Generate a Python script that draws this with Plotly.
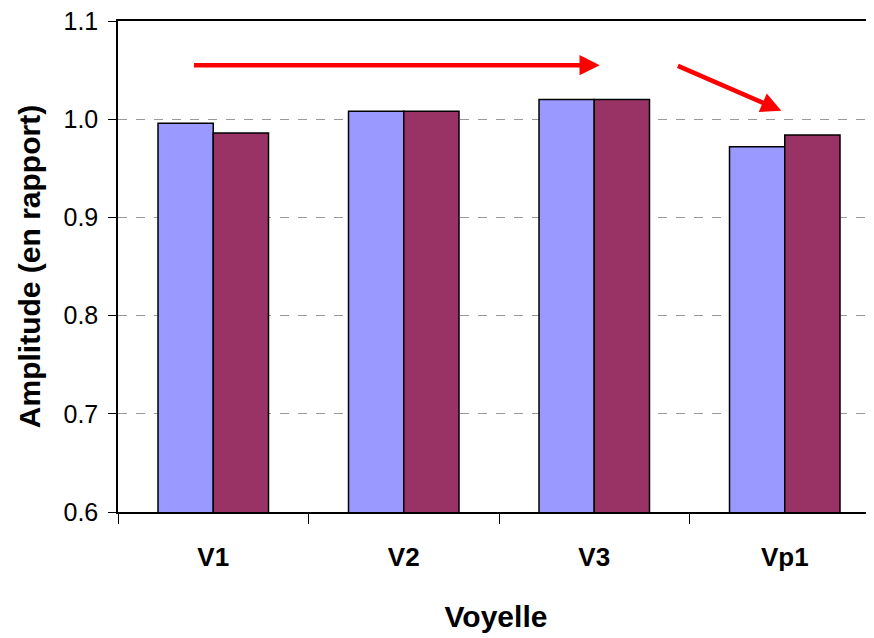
import plotly.graph_objects as go

categories = ["V1", "V2", "V3", "Vp1"]
series_a = [0.996, 1.008, 1.020, 0.972]
series_b = [0.986, 1.008, 1.020, 0.984]
y_ticks = [0.6, 0.7, 0.8, 0.9, 1.0, 1.1]
y_ticktext = ["0.6", "0.7", "0.8", "0.9", "1.0", "1.1"]

# arrow annotations (data units: category index, amplitude)
arrow_tail_x = [-0.109, 2.431]
arrow_tail_y = [1.055, 1.055]
arrow_tip_x = [2.029, 2.982]
arrow_tip_y = [1.055, 1.0086]

fig = go.Figure()
fig.add_trace(go.Bar(x=categories, y=series_a, marker=dict(color="#9999FF", line=dict(color="black", width=1.5)), showlegend=False))
fig.add_trace(go.Bar(x=categories, y=series_b, marker=dict(color="#993366", line=dict(color="black", width=1.5)), showlegend=False))

for tx, ty, hx, hy in zip(arrow_tail_x, arrow_tail_y, arrow_tip_x, arrow_tip_y):
    fig.add_annotation(x=hx, y=hy, ax=tx, ay=ty, xref="x", yref="y", axref="x", ayref="y",
                       text="", showarrow=True, arrowhead=2, arrowsize=0.9, arrowwidth=4.5,
                       arrowcolor="#FF0000", standoff=0, startstandoff=0)

fig.update_layout(
    width=866, height=630,
    margin=dict(l=110, r=0, t=13, b=126),
    paper_bgcolor="white", plot_bgcolor="white",
    barmode="group", bargap=0.42, bargroupgap=0,
    font=dict(family="Liberation Sans, Arial, sans-serif", color="black"),
)
fig.update_xaxes(
    type="category", range=[-0.5, 3.4685],
    showline=True, linecolor="black", linewidth=1.5, mirror=True,
    ticks="outside", tickson="boundaries", ticklen=10, tickcolor="black", tickwidth=1,
    showgrid=False,
    tickfont=dict(size=26, family="Liberation Sans, Arial, sans-serif", color="black", weight="bold"),
    ticklabelstandoff=21,
    title=dict(text="<b>Voyelle</b>", font=dict(size=30), standoff=35),
)
fig.update_yaxes(
    range=[0.6, 1.1], tickvals=y_ticks, ticktext=y_ticktext,
    showline=True, linecolor="black", linewidth=1.5,
    ticks="outside", ticklen=8, tickcolor="black", tickwidth=1,
    showgrid=True, gridcolor="#999999", griddash="dash", gridwidth=1,
    zeroline=False,
    tickfont=dict(size=25),
    ticklabelstandoff=5,
    ticklabeloverflow="allow",
    title=dict(text="<b>Amplitude (en rapport)</b>", font=dict(size=30), standoff=14),
)

fig.write_html("out.html")
